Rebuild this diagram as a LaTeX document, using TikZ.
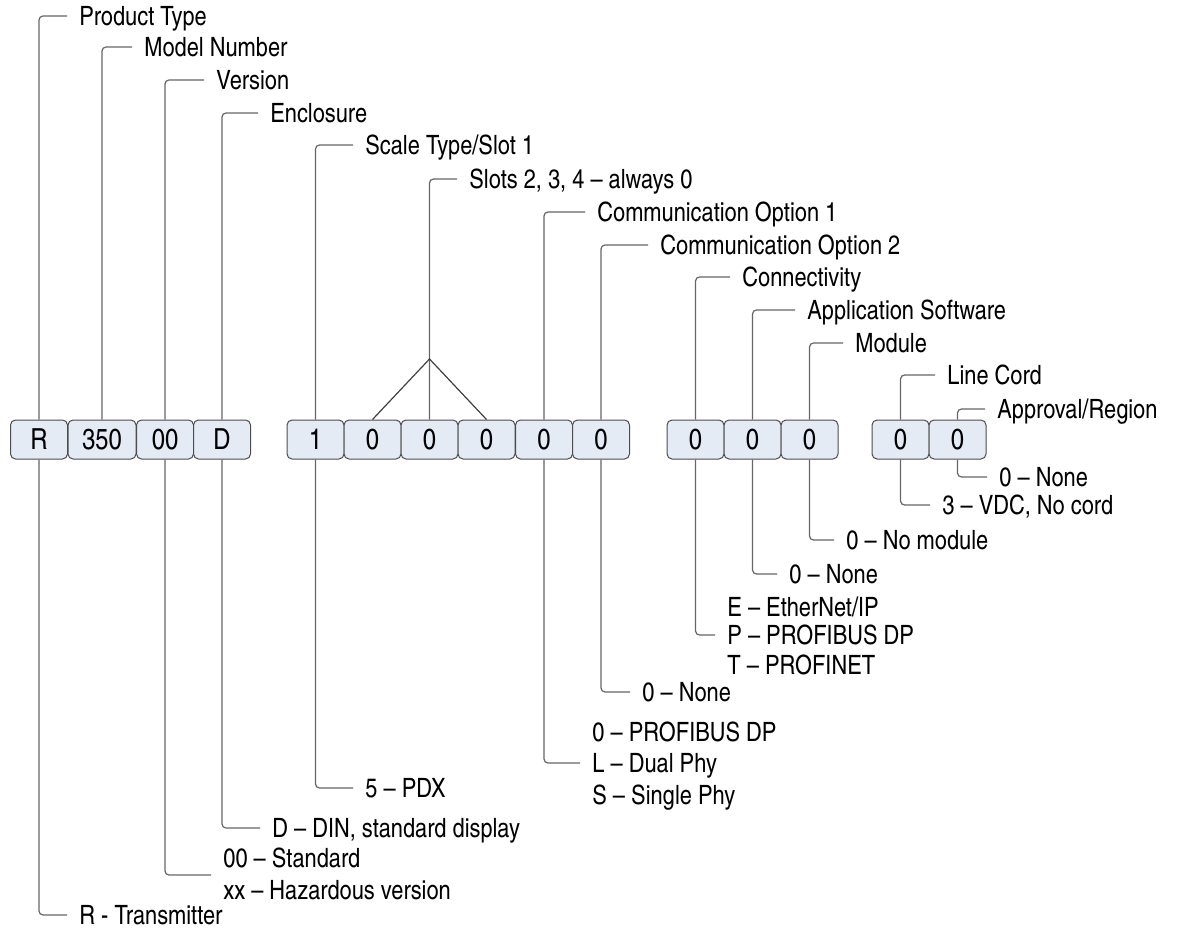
\documentclass[tikz,border=0pt]{standalone}
\usepackage{fontspec}
\setmainfont{texgyreheroscn-regular.otf}
\usepackage{tikz}
\usepackage{xcolor}
\definecolor{cellfill}{HTML}{E5EBF5}
\definecolor{leadgray}{HTML}{666666}

\begin{document}
\begin{tikzpicture}[x=0.5pt,y=-0.5pt]
\tikzset{
    every node/.style={font=\fontsize{13.3}{15.5}\selectfont},
    c1/.style={%
        draw=black!70, fill=cellfill,
        rectangle,
        rounded corners=2.5pt,
        line width=0.5pt,
        minimum height=19.5pt,
        minimum width=28.5pt,
        inner sep=0pt,
        font=\fontsize{14.5}{16}\selectfont
        },
    c2/.style={c1, minimum width=34pt},
    t1/.style={%
        anchor=west,
        inner xsep=6pt, inner ysep=0pt,
        text height=9.5pt, text depth=0pt
        },
    lead/.style={draw=leadgray, line width=0.6pt, rounded corners=2pt},
}
\useasboundingbox (0,0) rectangle (1181,930);
%%%CELLS
\node[c1] (cR)    at (39,439.5)    {R};
\node[c2] (cModel) at (102,439.5)  {350};
\node[c1] (cVer)  at (165,439.5)   {00};
\node[c1] (cEnc)  at (222,439.5)   {D};
%
\node[c1] (cSlot1) at (315.5,439.5) {1};
\node[c1] (cSlot2) at (372.5,439.5) {0};
\node[c1] (cSlot3) at (429.5,439.5) {0};
\node[c1] (cSlot4) at (486.5,439.5) {0};
\node[c1] (cComA)  at (544,439.5)   {0};
\node[c1] (cComB)  at (601,439.5)   {0};
%
\node[c1] (cConn) at (695.5,439.5) {0};
\node[c1] (cApp)  at (752.5,439.5) {0};
\node[c1] (cMod)  at (809.5,439.5) {0};
%
\node[c1] (cCord) at (900.5,439.5) {0};
\node[c1] (cAppr) at (957.5,439.5) {0};
%%%NAMES (ABOVE)
\node[t1] (tProd)  at (67,16)   {Product Type};
\node[t1] (tModel) at (132,47)  {Model Number};
\node[t1] (tVer)   at (204,80)  {Version};
\node[t1] (tEnc)   at (258,113) {Enclosure};
\node[t1] (tScale) at (353,145) {Scale Type/Slot 1};
\node[t1] (tSlots) at (457,179) {Slots 2, 3, 4 -- always 0};
\node[t1] (tComA)  at (585,212) {Communication Option 1};
\node[t1] (tComB)  at (648,245) {Communication Option 2};
\node[t1] (tConn)  at (730,277) {Connectivity};
\node[t1] (tApp)   at (795,310) {Application Software};
\node[t1] (tMod)   at (843,343) {Module};
\node[t1] (tCord)  at (935,375) {Line Cord};
\node[t1] (tAppr)  at (985,409) {Approval/Region};
%%%CODES (BELOW)
\node[t1] (uAppr)  at (987,477) {0 -- None};
\node[t1] (uCord)  at (930,505) {3 -- VDC, No cord};
\node[t1] (uMod)   at (834,540) {0 -- No module};
\node[t1] (uApp)   at (777,574) {0 -- None};
\node[t1] (uConnE) at (715,607) {E -- EtherNet/IP};
\node[t1] (uConnP) at (715,635) {P -- PROFIBUS DP};
\node[t1] (uConnT) at (715,665) {T -- PROFINET};
\node[t1] (uComB)  at (630,692) {0 -- None};
\node[t1] (uComA1) at (580,732) {0 -- PROFIBUS DP};
\node[t1] (uComA2) at (580,763) {L -- Dual Phy};
\node[t1] (uComA3) at (580,795) {S -- Single Phy};
\node[t1] (uScale) at (353,788) {5 -- PDX};
\node[t1] (uEnc)   at (260,828) {D -- DIN, standard display};
\node[t1] (uVer1)  at (211,858) {00 -- Standard};
\node[t1] (uVer2)  at (211,890) {xx -- Hazardous version};
\coordinate (vCorner) at (211,875);
\node[t1] (uTrans) at (67,915)  {R - Transmitter};
%%%LEADERS (ABOVE)
\draw[lead] (cR.north) |- (tProd.west);
\draw[lead] (cModel.north) |- (tModel.west);
\draw[lead] (cVer.north) |- (tVer.west);
\draw[lead] (cEnc.north) |- (tEnc.west);
\draw[lead] (cSlot1.north) |- (tScale.west);
\draw[lead] (cSlot3.north) |- (tSlots.west);
\coordinate (apex) at (429.5,359);
\draw[lead, sharp corners, draw=black!75] (cSlot2.north) -- (apex) -- (cSlot4.north);
\draw[lead] (cComA.north) |- (tComA.west);
\draw[lead] (cComB.north) |- (tComB.west);
\draw[lead] (cConn.north) |- (tConn.west);
\draw[lead] (cApp.north) |- (tApp.west);
\draw[lead] (cMod.north) |- (tMod.west);
\draw[lead] (cCord.north) |- (tCord.west);
\draw[lead] (cAppr.north) |- (tAppr.west);
%%%LEADERS (BELOW)
\draw[lead] (cAppr.south) |- (uAppr.west);
\draw[lead] (cCord.south) |- (uCord.west);
\draw[lead] (cMod.south) |- (uMod.west);
\draw[lead] (cApp.south) |- (uApp.west);
\draw[lead] (cConn.south) |- (uConnP.west);
\draw[lead] (cComB.south) |- (uComB.west);
\draw[lead] (cComA.south) |- (uComA2.west);
\draw[lead] (cSlot1.south) |- (uScale.west);
\draw[lead] (cEnc.south) |- (uEnc.west);
\draw[lead] (cVer.south) |- (vCorner);
\draw[lead] (cR.south) |- (uTrans.west);
\end{tikzpicture}
\end{document}
